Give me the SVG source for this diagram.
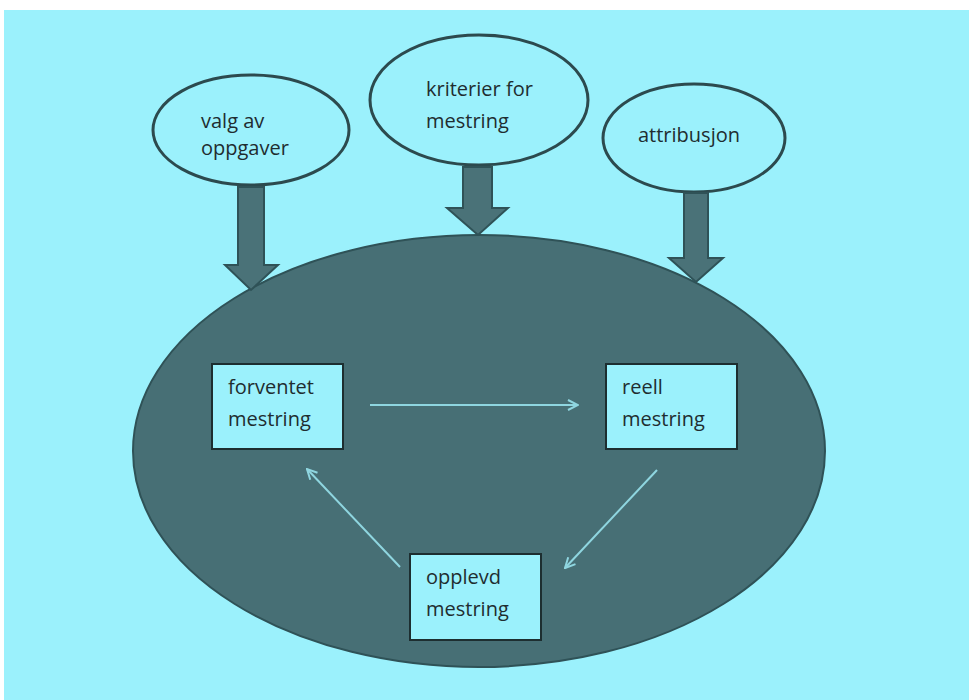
<svg xmlns="http://www.w3.org/2000/svg" width="969" height="700" viewBox="0 0 969 700">
<defs>
<style>
.oval{fill:#9bf1fc;stroke:#2c4a4e;stroke-width:3}
.blk{fill:#4a7278;stroke:#2f5257;stroke-width:2;stroke-linejoin:miter}
.box{fill:#9bf1fc;stroke:#1d2e30;stroke-width:2}
.t{font-family:"Open Sans","Noto Sans",sans-serif;font-size:20px;fill:#1f2d30}
.c{stroke:#8fd6e0;stroke-width:2;fill:none}
</style>
<marker id="ah" viewBox="0 0 12 12" refX="11" refY="6" markerWidth="12" markerHeight="12" markerUnits="userSpaceOnUse" orient="auto">
<path d="M1,1 L11,6 L1,11" fill="none" stroke="#8fd6e0" stroke-width="2"/>
</marker>
</defs>
<rect x="0" y="0" width="969" height="700" fill="#ffffff"/>
<rect x="4" y="10" width="965" height="690" fill="#9bf1fc"/>
<g id="main">
<ellipse cx="479" cy="451" rx="346" ry="216" fill="#476f75" stroke="#2f5257" stroke-width="2"/>
</g>
<g id="valg">
<ellipse class="oval" cx="251" cy="130" rx="98" ry="55"/>
<text class="t" x="201" y="128">valg av</text>
<text class="t" x="201" y="155">oppgaver</text>
</g>
<g id="kriterier">
<ellipse class="oval" cx="479" cy="100" rx="109" ry="65"/>
<text class="t" x="426" y="96">kriterier for</text>
<text class="t" x="426" y="128">mestring</text>
</g>
<g id="attribusjon">
<ellipse class="oval" cx="694" cy="138" rx="91" ry="54"/>
<text class="t" x="638" y="142">attribusjon</text>
</g>
<g id="block-arrows">
<path class="blk" d="M238,187 L264,187 L264,265 L278,265 L251,290 L225,265 L238,265 Z"/>
<path class="blk" d="M463,167 L492,167 L492,208 L508,208 L478,235 L447,208 L463,208 Z"/>
<path class="blk" d="M684,193 L708,193 L708,258 L723,258 L696,282 L669,258 L684,258 Z"/>
</g>
<g id="forventet">
<rect class="box" x="212" y="364" width="131" height="85"/>
<text class="t" x="228" y="394">forventet</text>
<text class="t" x="228" y="426">mestring</text>
</g>
<g id="reell">
<rect class="box" x="606" y="364" width="131" height="85"/>
<text class="t" x="622" y="394">reell</text>
<text class="t" x="622" y="426">mestring</text>
</g>
<g id="opplevd">
<rect class="box" x="410" y="554" width="131" height="86"/>
<text class="t" x="426" y="584">opplevd</text>
<text class="t" x="426" y="616">mestring</text>
</g>
<g id="connectors">
<line class="c" x1="370" y1="405" x2="578" y2="405" marker-end="url(#ah)"/>
<line class="c" x1="657" y1="470" x2="565" y2="568" marker-end="url(#ah)"/>
<line class="c" x1="400" y1="567" x2="307" y2="469" marker-end="url(#ah)"/>
</g>
</svg>
